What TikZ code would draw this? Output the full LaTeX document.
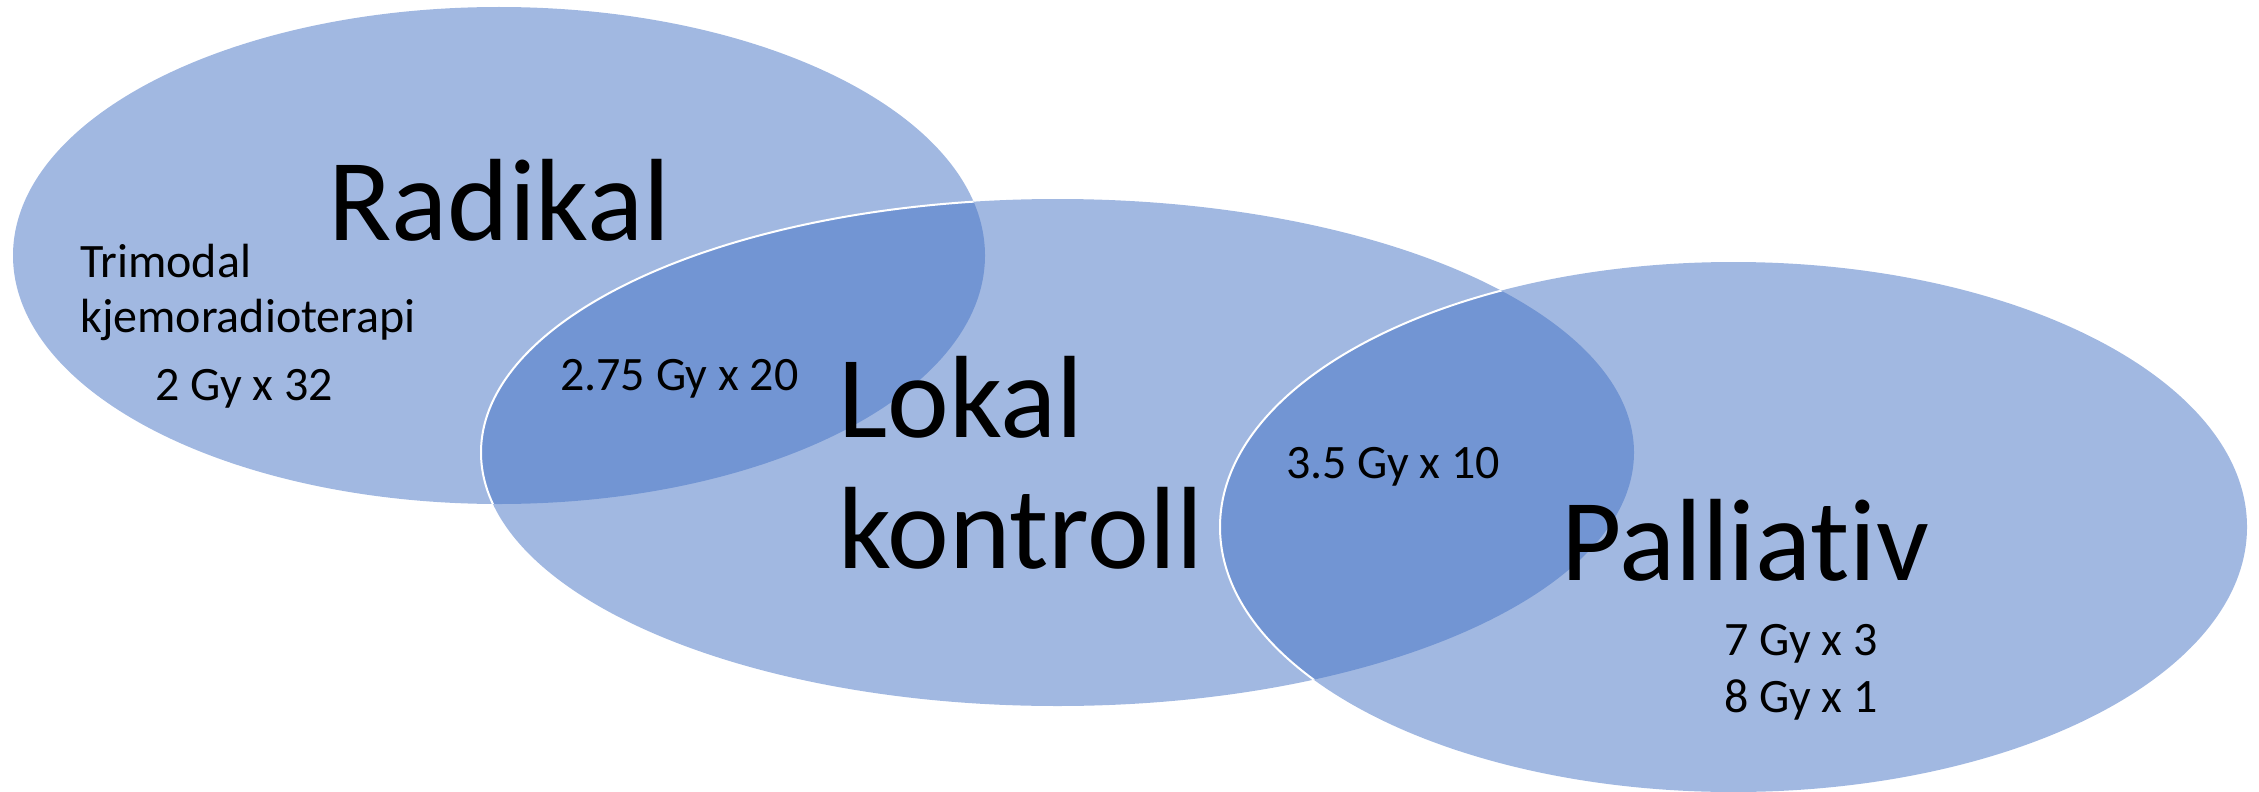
\documentclass[tikz,border=0pt]{standalone}
\usepackage{fontspec}
\setmainfont{Carlito}[Ligatures={CommonOff,RareOff}]
\begin{document}
\begin{tikzpicture}[x=1pt,y=-1pt,
  blob/.style={fill=blobblue,fill opacity=0.5,draw=none},
  rim/.style={draw=white,line width=2pt},
  bigtxt/.style={inner sep=0pt,anchor=base west,font=\fontsize{117}{131}\selectfont},
  smalltxt/.style={inner sep=0pt,anchor=base west,font=\fontsize{48}{55}\selectfont}]
\definecolor{blobblue}{HTML}{4472C4}
\useasboundingbox (0,0) rectangle (2259,792);
% ellipses
\path[blob] (499,255.5) ellipse [x radius=486,y radius=248.5];
\path[blob] (1057.5,452.5) ellipse [x radius=576.5,y radius=253.5];
\begin{scope}
  \clip (499,255.5) ellipse [x radius=486,y radius=248.5];
  \draw[rim] (1057.5,452.5) ellipse [x radius=576.5,y radius=253.5];
\end{scope}
\path[blob] (1733.5,527) ellipse [x radius=513.5,y radius=265];
\begin{scope}
  \clip (1057.5,452.5) ellipse [x radius=576.5,y radius=253.5];
  \draw[rim] (1733.5,527) ellipse [x radius=513.5,y radius=265];
\end{scope}
% labels
\node[bigtxt] (rad) at (328,240) {Radikal};
\node[smalltxt] (tri) at (80,277) {Trimodal};
\node[smalltxt] (kje) at (80,332) {kjemoradioterapi};
\node[smalltxt] (g32) at (155,400) {2 Gy x 32};
\node[smalltxt] (g20) at (560,390) {2.75 Gy x 20};
\node[bigtxt] (lok) at (838,437) {Lokal};
\node[bigtxt] (kon) at (838,568) {kontroll};
\node[smalltxt] (g10) at (1286,478) {3.5 Gy x 10};
\node[bigtxt] (pal) at (1561,580) {Palliativ};
\node[smalltxt] (g3) at (1724,655) {7 Gy x 3};
\node[smalltxt] (g1) at (1724,712) {8 Gy x 1};
\end{tikzpicture}
\end{document}
